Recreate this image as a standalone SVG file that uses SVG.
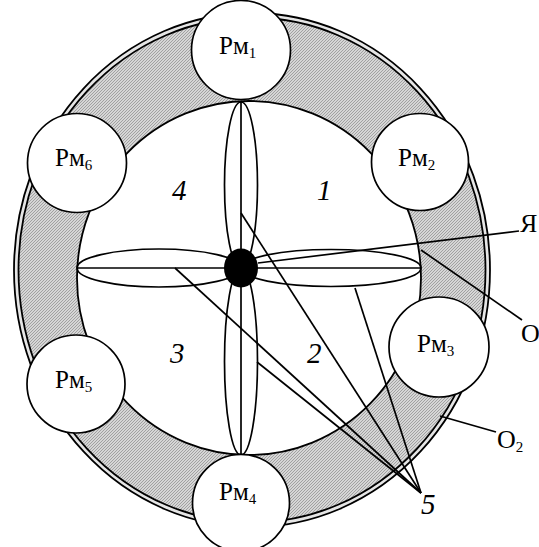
<svg xmlns="http://www.w3.org/2000/svg" width="539" height="547" viewBox="0 0 539 547">
<defs>
<pattern id="hatch" width="3" height="3" patternUnits="userSpaceOnUse">
<rect width="3" height="3" fill="#d6d6d6"/>
<path d="M-1,1 L1,-1 M0,3 L3,0 M2,4 L4,2" stroke="#8a8a8a" stroke-width="0.7"/>
</pattern>
<style>
.ln{fill:none;stroke:#000;stroke-width:1.7}
.wh{fill:#fff;stroke:#000;stroke-width:1.7}
.rm{font-family:"Liberation Serif","Times New Roman",serif;font-size:25px;fill:#000}
.sub{font-size:15px}
.num{font-family:"Liberation Serif","Times New Roman",serif;font-size:29px;font-style:italic;fill:#000}
.lbl{font-family:"Liberation Serif","Times New Roman",serif;font-size:26px;fill:#000}
</style>
</defs>
<g id="ring">
<ellipse cx="252" cy="270" rx="238" ry="257" fill="#e6e6e6" stroke="#000" stroke-width="1.8"/>
<ellipse cx="252" cy="270" rx="233.5" ry="252.5" fill="url(#hatch)" stroke="#000" stroke-width="1.8"/>
<ellipse cx="249" cy="278" rx="172" ry="177" fill="#fff" stroke="#000" stroke-width="1.8"/>
</g>
<g id="petals">
<ellipse cx="241" cy="185" rx="16.5" ry="83" class="ln"/>
<ellipse cx="241" cy="361.5" rx="16.5" ry="93.5" class="ln"/>
<ellipse cx="159" cy="268" rx="82" ry="19" class="ln"/>
<ellipse cx="331" cy="268" rx="90" ry="18.5" class="ln"/>
<line x1="241" y1="102" x2="241" y2="455" class="ln"/>
<line x1="77" y1="268" x2="421" y2="268" class="ln"/>
<ellipse cx="241" cy="268" rx="17" ry="19.5" fill="#000"/>
</g>
<g id="connectors">
<line x1="175" y1="268" x2="421" y2="493" class="ln"/>
<line x1="257" y1="362" x2="421" y2="493" class="ln"/>
<line x1="241" y1="213" x2="421" y2="493" class="ln"/>
<line x1="355" y1="288" x2="421" y2="493" class="ln"/>
<line x1="258" y1="263" x2="519" y2="231" class="ln"/>
<line x1="421" y1="250" x2="522" y2="320" class="ln"/>
<line x1="440" y1="416" x2="496" y2="432" class="ln"/>
</g>
<g id="rm1"><circle cx="241" cy="50" r="49.5" class="wh"/><text x="219" y="54" class="rm">Рм<tspan class="sub" dy="4">1</tspan></text></g>
<g id="rm2"><circle cx="420" cy="162" r="48.5" class="wh"/><text x="398" y="166" class="rm">Рм<tspan class="sub" dy="4">2</tspan></text></g>
<g id="rm3"><circle cx="439" cy="347" r="50" class="wh"/><text x="417" y="352" class="rm">Рм<tspan class="sub" dy="4">3</tspan></text></g>
<g id="rm4"><circle cx="241" cy="503" r="48.5" class="wh"/><text x="219" y="500" class="rm">Рм<tspan class="sub" dy="4">4</tspan></text></g>
<g id="rm5"><circle cx="76" cy="384" r="49" class="wh"/><text x="55" y="388" class="rm">Рм<tspan class="sub" dy="4">5</tspan></text></g>
<g id="rm6"><circle cx="77" cy="163" r="49.5" class="wh"/><text x="55" y="166" class="rm">Рм<tspan class="sub" dy="4">6</tspan></text></g>
<g id="labels">
<text x="172" y="200" class="num">4</text>
<text x="317" y="200" class="num">1</text>
<text x="170" y="363" class="num">3</text>
<text x="307" y="363" class="num">2</text>
<text x="421" y="514" class="num">5</text>
<text x="520" y="232" class="lbl">Я</text>
<text x="521" y="342" class="lbl">O</text>
<text x="497" y="448" class="lbl">O<tspan class="sub" dy="4">2</tspan></text>
</g>
</svg>
